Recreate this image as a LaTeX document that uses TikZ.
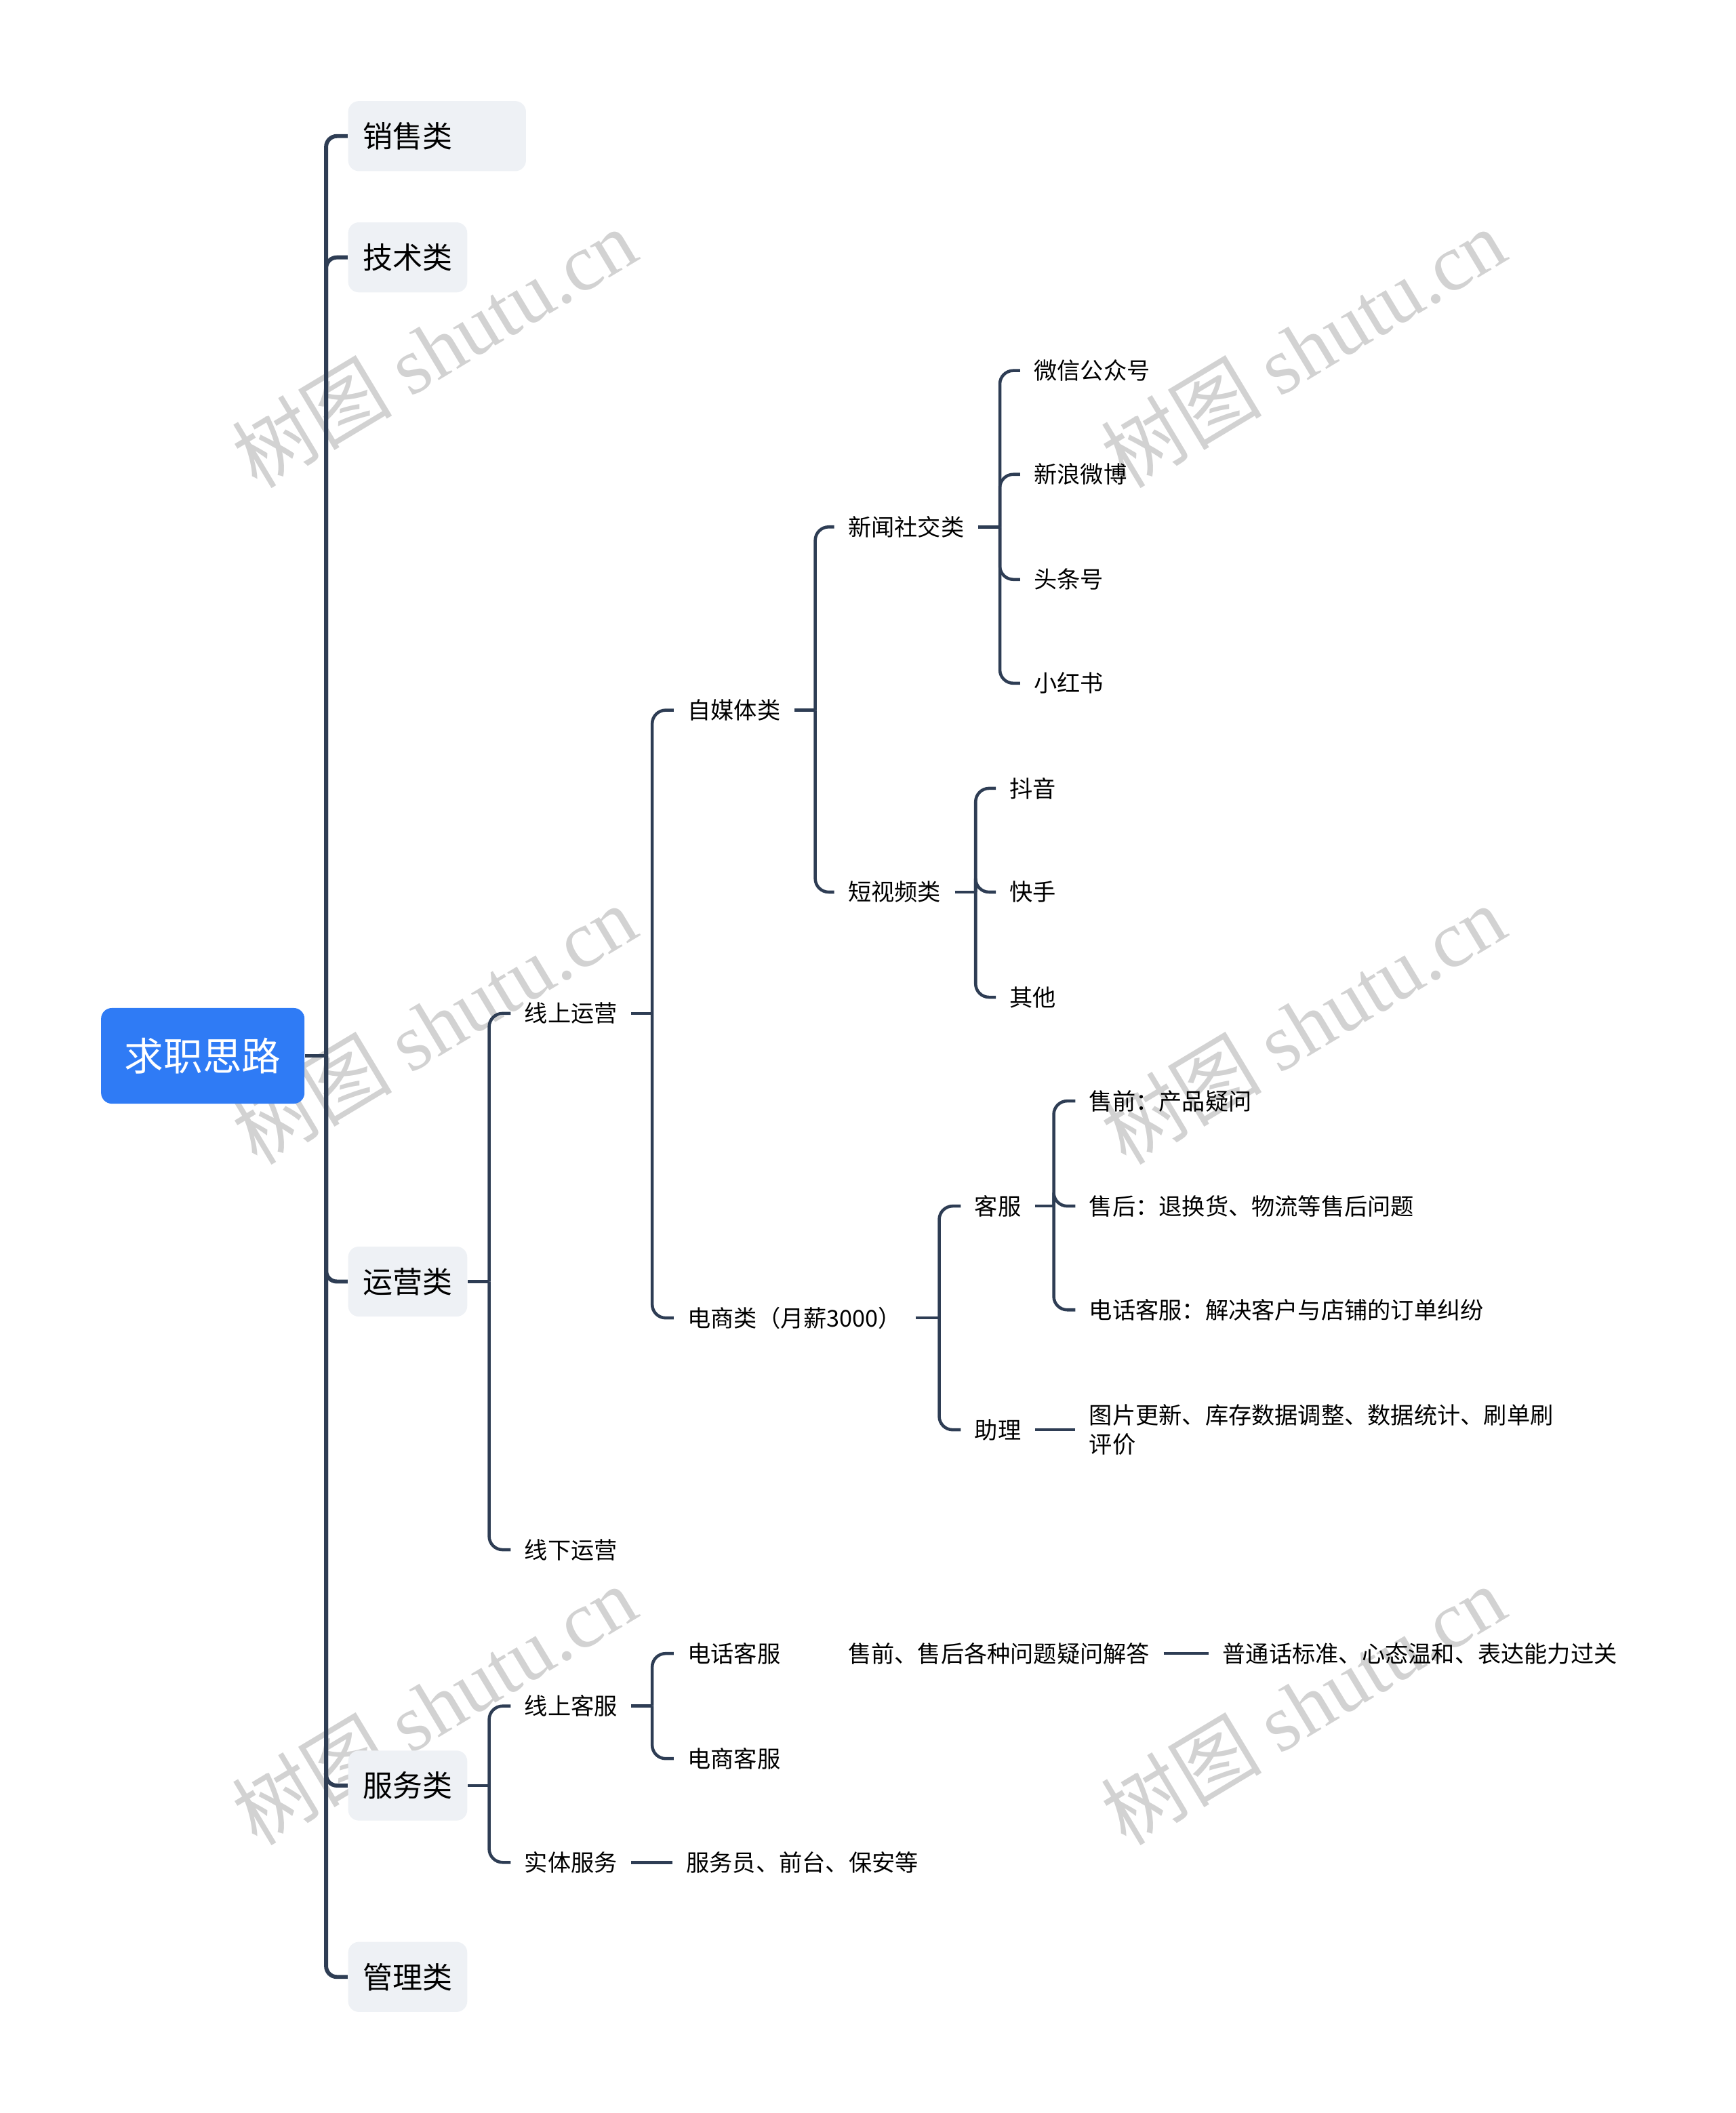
\documentclass[tikz,border=0pt]{standalone}
\usepackage{fontspec}
\setmainfont{Noto Sans CJK SC}
\newfontfamily\wmfont{Liberation Serif}

\definecolor{linkcol}{HTML}{2E3D54}
\definecolor{boxfill}{HTML}{EEF1F5}
\definecolor{rootblue}{HTML}{2F7BF5}
\definecolor{wmgray}{HTML}{D2D2D2}

\tikzset{
  rootbox/.style={fill=rootblue, text=white, rounded corners=0.16cm,
    minimum width=3.02cm, minimum height=1.42cm,
    font=\fontsize{16.5}{20}\selectfont},
  catbox/.style={fill=boxfill, rounded corners=0.16cm, minimum height=1.04cm,
    inner xsep=0.22cm, anchor=west, font=\fontsize{12.6}{15}\selectfont},
  leaf/.style={inner xsep=0.2cm, anchor=west, font=\fontsize{9.8}{12.5}\selectfont},
  trunk/.style={draw=linkcol, line width=1.7pt, rounded corners=0.16cm},
  link/.style={draw=linkcol, line width=1.3pt, rounded corners=0.2cm},
  wmark/.style={text=wmgray, rotate=31, font=\fontsize{34}{38}\selectfont}
}

\begin{document}
\begin{tikzpicture}[x=0.02cm, y=-0.02cm]
  \useasboundingbox (0,0) rectangle (1288,1568);

  % Watermarks
  \foreach \wx/\wy [count=\i] in {322/258, 967/258, 322/760, 967/760, 322/1265, 967/1265}
    \node[wmark] (wm\i) at (\wx,\wy) {树图 {\wmfont shutu.cn}};

  % Junctions
  \coordinate (rootj) at (242,783.5);
  \coordinate (opsj) at (363,951);
  \coordinate (onlinej) at (484,752);
  \coordinate (mediaj) at (605,527);
  \coordinate (newsj) at (742,391);
  \coordinate (videoj) at (724,662);
  \coordinate (ecomj) at (697,978);
  \coordinate (kefuj) at (782,895);
  \coordinate (servj) at (363,1325);
  \coordinate (onlinecsj) at (484,1266);

  % Nodes
  \node[rootbox] (root) at (150.5,783.5) {求职思路};
  \node[catbox, text width=2.2cm, align=left] (sales) at (258,101) {销售类};
  \node[catbox] (tech) at (258,191) {技术类};
  \node[catbox] (ops) at (258,951) {运营类};
  \node[catbox] (serv) at (258,1325) {服务类};
  \node[catbox] (mgmt) at (258,1467) {管理类};

  \node[leaf] (online) at (379,752) {线上运营};
  \node[leaf] (offline) at (379,1150) {线下运营};
  \node[leaf] (media) at (500,527) {自媒体类};
  \node[leaf] (ecom) at (500,978) {电商类（月薪3000）};
  \node[leaf] (news) at (619,391) {新闻社交类};
  \node[leaf] (video) at (619,662) {短视频类};
  \node[leaf] (wechat) at (757,275) {微信公众号};
  \node[leaf] (weibo) at (757,352) {新浪微博};
  \node[leaf] (toutiao) at (757,430) {头条号};
  \node[leaf] (xhs) at (757,507) {小红书};
  \node[leaf] (douyin) at (739,585) {抖音};
  \node[leaf] (kuaishou) at (739,662) {快手};
  \node[leaf] (other) at (739,740) {其他};
  \node[leaf] (kefu) at (713,895) {客服};
  \node[leaf] (assist) at (713,1061) {助理};
  \node[leaf] (presale) at (798,817) {售前：产品疑问};
  \node[leaf] (aftersale) at (798,895) {售后：退换货、物流等售后问题};
  \node[leaf] (phone) at (798,972) {电话客服：解决客户与店铺的订单纠纷};
  \node[leaf, align=left] (tasks) at (798,1061) {图片更新、库存数据调整、数据统计、刷单刷\\评价};
  \node[leaf] (onlinecs) at (379,1266) {线上客服};
  \node[leaf] (physical) at (379,1382) {实体服务};
  \node[leaf] (phonecs) at (500,1227) {电话客服};
  \node[leaf] (ecomcs) at (500,1305) {电商客服};
  \node[leaf] (answer) at (619,1227) {售前、售后各种问题疑问解答};
  \node[leaf] (skills) at (897,1227) {普通话标准、心态温和、表达能力过关};
  \node[leaf] (staff) at (499,1382) {服务员、前台、保安等};

  % Connectors
  \draw[trunk] (root.east) -- (rootj);
  \foreach \c in {sales,tech,ops,serv,mgmt}
    \draw[trunk] (rootj) |- (\c.west);

  \draw[link] (ops.east) -- (opsj);
  \foreach \c in {online,offline}
    \draw[link] (opsj) |- (\c.west);
  \draw[link] (online.east) -- (onlinej);
  \foreach \c in {media,ecom}
    \draw[link] (onlinej) |- (\c.west);
  \draw[link] (media.east) -- (mediaj);
  \foreach \c in {news,video}
    \draw[link] (mediaj) |- (\c.west);
  \draw[link] (news.east) -- (newsj);
  \foreach \c in {wechat,weibo,toutiao,xhs}
    \draw[link] (newsj) |- (\c.west);
  \draw[link] (video.east) -- (videoj);
  \foreach \c in {douyin,kuaishou,other}
    \draw[link] (videoj) |- (\c.west);
  \draw[link] (ecom.east) -- (ecomj);
  \foreach \c in {kefu,assist}
    \draw[link] (ecomj) |- (\c.west);
  \draw[link] (kefu.east) -- (kefuj);
  \foreach \c in {presale,aftersale,phone}
    \draw[link] (kefuj) |- (\c.west);
  \draw[link] (assist.east) -- (tasks.west);

  \draw[link] (serv.east) -- (servj);
  \foreach \c in {onlinecs,physical}
    \draw[link] (servj) |- (\c.west);
  \draw[link] (onlinecs.east) -- (onlinecsj);
  \foreach \c in {phonecs,ecomcs}
    \draw[link] (onlinecsj) |- (\c.west);
  \draw[link] (answer.east) -- (skills.west);
  \draw[link] (physical.east) -- (staff.west);
\end{tikzpicture}
\end{document}
